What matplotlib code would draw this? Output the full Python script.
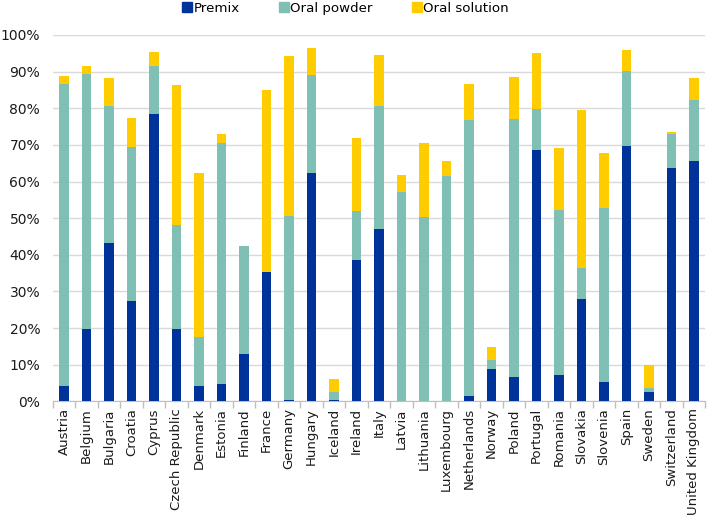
import matplotlib
matplotlib.use("Agg")
import matplotlib.pyplot as plt
import numpy as np
from matplotlib.ticker import FuncFormatter, FixedLocator
from matplotlib.lines import Line2D

countries = ["Austria", "Belgium", "Bulgaria", "Croatia", "Cyprus", "Czech Republic",
             "Denmark", "Estonia", "Finland", "France", "Germany", "Hungary", "Iceland",
             "Ireland", "Italy", "Latvia", "Lithuania", "Luxembourg", "Netherlands",
             "Norway", "Poland", "Portugal", "Romania", "Slovakia", "Slovenia", "Spain",
             "Sweden", "Switzerland", "United Kingdom"]

premix = [4.2, 19.8, 43.2, 27.3, 78.3, 19.6, 4.1, 4.7, 13.0, 35.4, 0.3, 62.4, 0.3,
          38.5, 46.9, 0.0, 0.0, 0.0, 1.5, 8.8, 6.6, 68.7, 7.2, 27.9, 5.3, 69.8,
          2.6, 63.8, 65.5]
powder_top = [86.5, 89.4, 80.7, 69.3, 91.6, 48.2, 17.6, 70.6, 42.3, 35.4, 50.6, 89.0, 2.5,
              52.0, 80.5, 57.2, 50.2, 61.6, 76.8, 11.2, 77.0, 79.9, 52.3, 36.3, 52.7, 90.3,
              3.5, 73.0, 82.3]
total = [88.8, 91.4, 88.3, 77.3, 95.4, 86.4, 62.2, 73.1, 42.3, 84.9, 94.3, 96.4, 6.1,
         72.0, 94.4, 61.8, 70.5, 65.6, 86.5, 14.8, 88.6, 95.0, 69.2, 79.6, 67.7, 95.8,
         10.0, 73.4, 88.2]

oral_powder = [p - m for p, m in zip(powder_top, premix)]
oral_solution = [t - p for t, p in zip(total, powder_top)]

c_premix = "#003399"
c_powder = "#7FBFB4"
c_solution = "#FFCC00"

fig = plt.figure(figsize=(7.09, 5.19), dpi=100)
ax = fig.add_axes([0.0743, 0.2268, 0.9201, 0.7058])

x = np.arange(len(countries))
w = 0.42
ax.bar(x, premix, w, color=c_premix, zorder=3)
ax.bar(x, oral_powder, w, bottom=premix, color=c_powder, zorder=3)
ax.bar(x, oral_solution, w, bottom=powder_top, color=c_solution, zorder=3)

ax.set_ylim(0, 100)
ax.set_xlim(-0.5, len(countries) - 0.5)
ax.set_yticks(np.arange(0, 101, 10))
ax.yaxis.set_major_formatter(FuncFormatter(lambda v, p: f"{int(v)}%"))
ax.grid(axis="y", color="#D9D9D9", linewidth=1, zorder=0)
ax.set_axisbelow(True)

ax.set_xticks(x)
ax.set_xticklabels(countries, rotation=90, fontsize=9.5, color="#1a1a1a")
ax.tick_params(axis="x", which="major", length=0, pad=5)
ax.xaxis.set_minor_locator(FixedLocator(np.arange(-0.5, len(countries), 1)))
ax.tick_params(axis="x", which="minor", length=5, color="#BFBFBF", width=1)
ax.tick_params(axis="y", length=0, labelsize=10, labelcolor="#1a1a1a", pad=9)

for s in ["top", "right", "left"]:
    ax.spines[s].set_visible(False)
ax.spines["bottom"].set_color("#BFBFBF")

handles = [Line2D([], [], marker="s", linestyle="none", markersize=7, color=c)
           for c in (c_premix, c_powder, c_solution)]
fig.legend(handles, ["Premix", "Oral powder", "Oral solution"], loc="center",
           bbox_to_anchor=(0.487, 0.984), ncol=3, frameon=False, fontsize=9.6,
           handletextpad=0.1, columnspacing=2.9, handlelength=0.8)

fig.savefig("out.png", dpi=100)
